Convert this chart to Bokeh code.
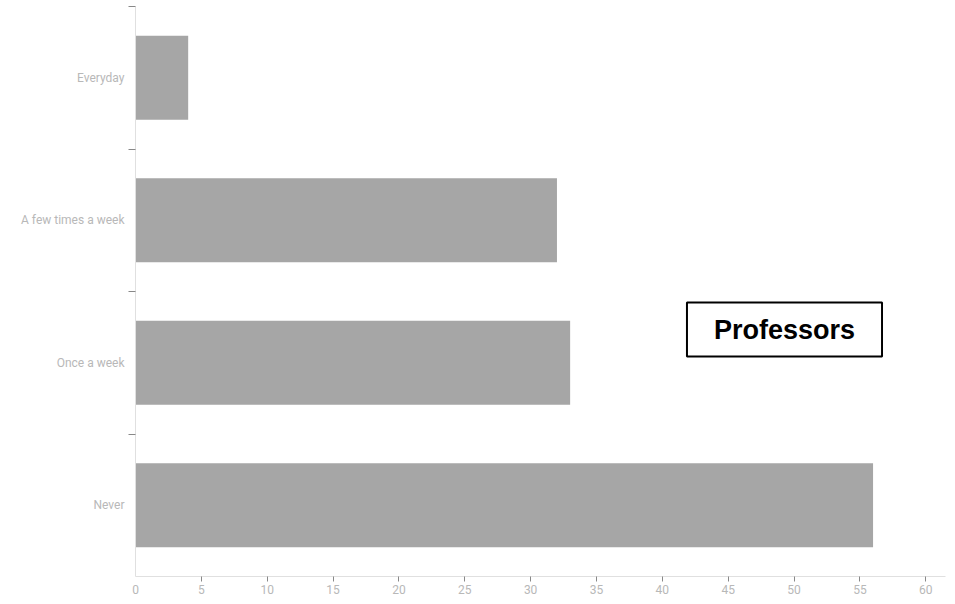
from bokeh.plotting import figure
from bokeh.models import Range1d, FixedTicker, Label
from bokeh.embed import file_html
from bokeh.resources import INLINE
import numpy as np

categories = ["Never", "Once a week", "A few times a week", "Everyday"]
counts = [56, 33, 32, 4]
x_ticks = [0, 5, 10, 15, 20, 25, 30, 35, 40, 45, 50, 55, 60]
title_text = "Professors"

ypos = np.arange(len(categories)) + 0.5

p = figure(width=947, height=596, output_backend="svg", toolbar_location=None,
           x_range=Range1d(0, 61.5), y_range=Range1d(0, len(categories)),
           min_border_left=135, min_border_right=2, min_border_top=6, min_border_bottom=20)
p.outline_line_color = None
p.xgrid.grid_line_color = None
p.ygrid.grid_line_color = None

p.hbar(y=ypos, right=counts, left=0, height=0.59, fill_color="#a6a6a6", line_color=None)

# x axis: labels at every tick, tick marks drawn everywhere except at 0
xa = p.xaxis[0]
xa.ticker = FixedTicker(ticks=x_ticks, minor_ticks=x_ticks[1:])
xa.axis_line_color = "#e0e0e0"
xa.major_tick_line_color = None
xa.major_tick_out = 5
xa.major_tick_in = 0
xa.minor_tick_line_color = "#888888"
xa.minor_tick_out = 5
xa.minor_tick_in = 0
xa.major_label_text_color = "#b8b8b8"
xa.major_label_text_font = "Roboto"
xa.major_label_text_font_size = "12px"
xa.major_label_standoff = 3

# y axis: labels centred on bars, tick marks at category boundaries
ya = p.yaxis[0]
ya.ticker = FixedTicker(ticks=list(ypos), minor_ticks=list(range(1, len(categories) + 1)))
ya.major_label_overrides = {float(y): c for y, c in zip(ypos, categories)}
ya.axis_line_color = "#e0e0e0"
ya.major_tick_line_color = None
ya.major_tick_out = 0
ya.major_tick_in = 0
ya.minor_tick_line_color = "#888888"
ya.minor_tick_out = 7
ya.minor_tick_in = 0
ya.major_label_text_color = "#b8b8b8"
ya.major_label_text_font = "Roboto"
ya.major_label_text_font_size = "12px"
ya.major_label_standoff = 4

lab = Label(x=649, y=247, x_units="screen", y_units="screen", text=title_text,
            text_font="Liberation Sans", text_font_style="bold", text_font_size="27px",
            text_color="black", text_align="center", text_baseline="middle",
            background_fill_color="white", border_line_color="black", border_line_width=2,
            padding=(27, 12))
p.add_layout(lab)

open("out.html", "w").write(file_html(p, INLINE))
